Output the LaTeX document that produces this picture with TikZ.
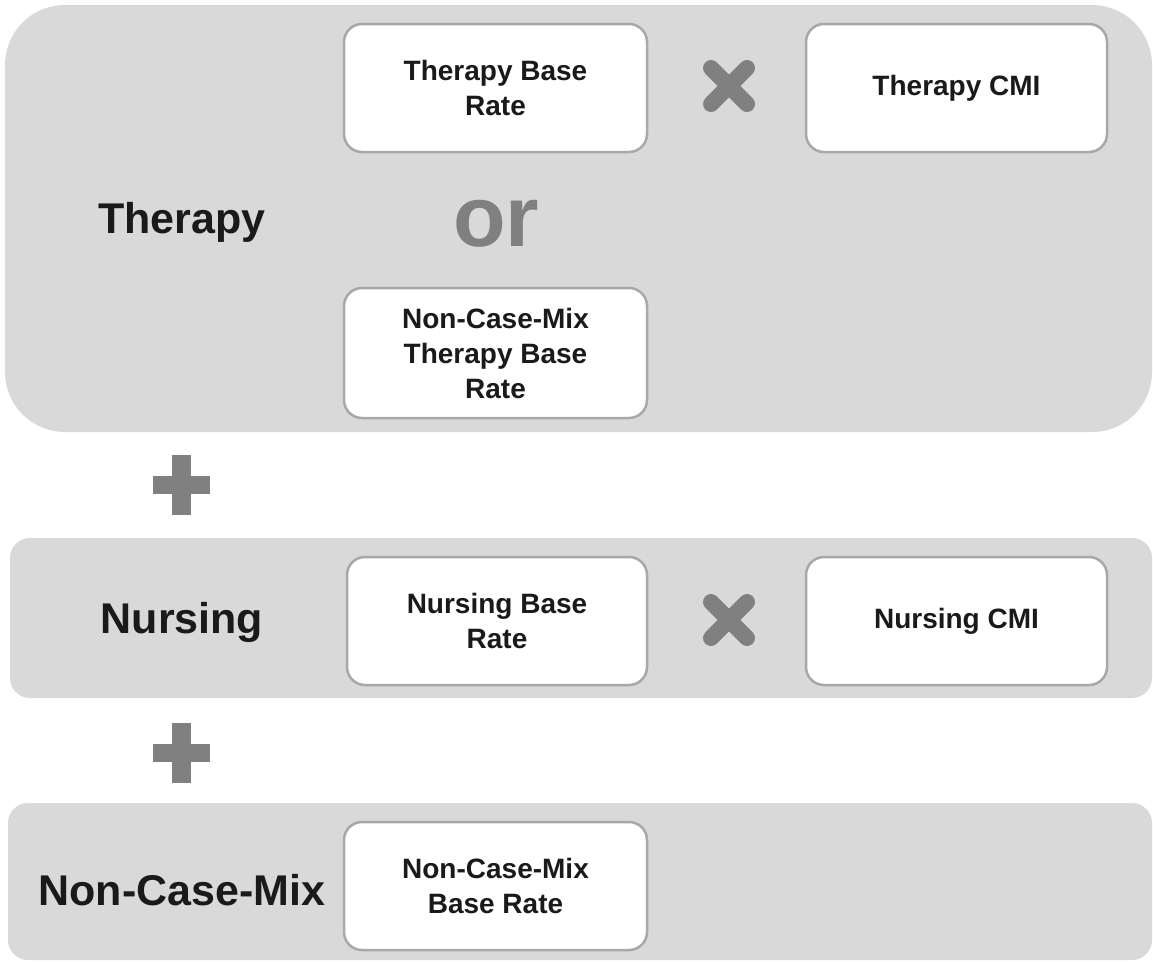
\documentclass[tikz,border=0pt]{standalone}
\usepackage{fontspec}
\setmainfont{Liberation Sans}
\usetikzlibrary{calc}
\definecolor{panelgray}{HTML}{D9D9D9}
\definecolor{boxline}{HTML}{A8A8A8}
\definecolor{symgray}{HTML}{808080}
\definecolor{txt}{HTML}{1A1A1A}
\tikzset{
  panel/.style={fill=panelgray, draw=none},
  ratebox/.style={draw=boxline, line width=2.5pt, fill=white, rounded corners=18pt,
    align=center, text=txt, font=\fontsize{28}{35}\selectfont\bfseries, inner sep=0pt},
  rowlabel/.style={text=txt, font=\fontsize{43}{50}\selectfont\bfseries, inner sep=0pt},
  orlabel/.style={text=symgray, font=\fontsize{86}{90}\selectfont\bfseries, inner sep=0pt},
  timesarm/.style={draw=symgray, line width=16pt, line cap=round},
  plusarm/.style={fill=symgray, draw=none}
}
\begin{document}
\begin{tikzpicture}[x=1pt, y=-1pt]
\useasboundingbox (0,0) rectangle (1153,962);
% panels
\fill[panel, rounded corners=60pt] (5,5) rectangle (1152,432);
\fill[panel, rounded corners=20pt] (10,538) rectangle (1152,698);
\fill[panel, rounded corners=20pt] (8,803) rectangle (1152,960);
% row labels
\node[rowlabel] (lther) at (182,222) {Therapy};
\node[rowlabel] (lnurs) at (182,622) {Nursing};
\node[rowlabel] (lncm) at (182,890) {Non-Case-Mix};
% therapy boxes
\node[ratebox, minimum width=303pt, minimum height=128pt] (tbr) at (495.5,88) {Therapy Base\\Rate};
\node[ratebox, minimum width=301pt, minimum height=128pt] (tcmi) at (956.5,88) {Therapy CMI};
\node[orlabel] (or) at (496,224) {or};
\node[ratebox, minimum width=303pt, minimum height=130pt] (nctbr) at (495.5,353) {Non-Case-Mix\\Therapy Base\\Rate};
% nursing boxes
\node[ratebox, minimum width=300pt, minimum height=128pt] (nbr) at (497,621) {Nursing Base\\Rate};
\node[ratebox, minimum width=301pt, minimum height=128pt] (ncmi) at (956.5,621) {Nursing CMI};
% non-case-mix box
\node[ratebox, minimum width=303pt, minimum height=128pt] (ncmbr) at (495.5,886) {Non-Case-Mix\\Base Rate};
% multiplication signs
\coordinate (times1) at (729,86);
\coordinate (times2) at (729,620);
\foreach \c in {times1,times2}{
  \draw[timesarm] ($(\c)+(-18,-18)$) -- ($(\c)+(18,18)$);
  \draw[timesarm] ($(\c)+(-18,18)$) -- ($(\c)+(18,-18)$);
}
% plus signs
\coordinate (plus1) at (181,485);
\coordinate (plus2) at (181,753);
\foreach \c in {plus1,plus2}{
  \fill[plusarm] ($(\c)+(-28.5,-9)$) rectangle ($(\c)+(28.5,9)$);
  \fill[plusarm] ($(\c)+(-9.5,-30)$) rectangle ($(\c)+(9.5,30)$);
}
\end{tikzpicture}
\end{document}
